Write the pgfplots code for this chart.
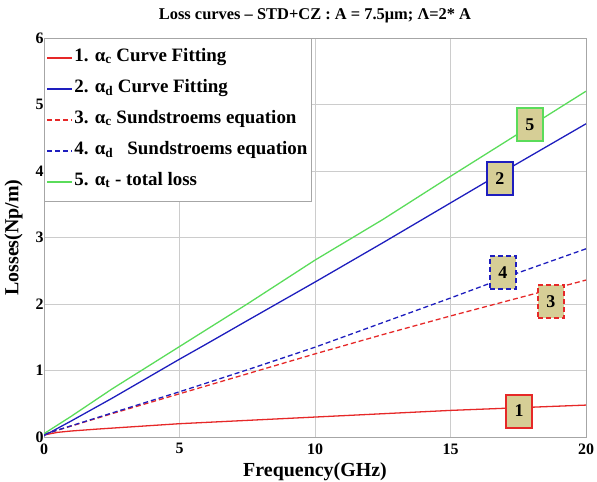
\documentclass[border=0pt]{standalone}
\usepackage{pgfplots}
\pgfplotsset{compat=1.18}
\usepackage{fontspec}
\setmainfont{Liberation Serif}
\definecolor{cred}{RGB}{230,40,40}
\definecolor{cblue}{RGB}{30,30,190}
\definecolor{cgreen}{RGB}{90,220,90}
\definecolor{boxfill}{RGB}{214,206,150}
\begin{document}
\begin{tikzpicture}
\useasboundingbox (-44bp,-45bp) rectangle (553bp,437bp);
\begin{axis}[
  scale only axis, width=542bp, height=399bp,
  xmin=0, xmax=20, ymin=0, ymax=6,
  xtick={0,5,10,15,20}, ytick={0,1,2,3,4,5,6},
  grid=major, major grid style={gray!40, line width=0.6pt},
  axis line style={gray!70, line width=0.8pt},
  tick style={draw=none},
  tick label style={font=\fontsize{16}{18}\selectfont\bfseries},
  /pgf/number format/assume math mode=true,
  xticklabel style={yshift=-3bp}, yticklabel style={xshift=3bp},
  title={Loss curves -- STD+CZ : A = 7.5μm; Λ=2* A},
  title style={font=\fontsize{16.5}{19}\selectfont\bfseries, at={(axis description cs:0.5,1.04)}, anchor=center},
  xlabel={Frequency(GHz)}, ylabel={Losses(Np/m)},
  label style={font=\fontsize{20}{23}\selectfont\bfseries},
  xlabel style={at={(axis description cs:0.5,-0.086)}, anchor=center},
  ylabel style={at={(axis description cs:-0.056,0.5)}, anchor=center},
  legend cell align=left,
  legend style={at={(0,1)}, anchor=north west, draw=gray!70, line width=0.8pt,
    font=\fontsize{19}{22}\selectfont\bfseries, row sep=11bp, inner xsep=2bp, inner ysep=9.5bp,
    nodes={text height=12bp, text depth=5bp, inner sep=1.5bp}},
  limg/.style={legend image code/.code={\draw[#1, line width=1.4pt] (0bp,0bp) -- (25bp,0bp);}},
  every axis plot/.append style={line width=1.3pt},
]
\addplot[color=cred, draw=cred, limg={cred}] coordinates {(0,0.03) (0.5,0.07) (1,0.09) (2,0.12) (3.5,0.16) (5,0.2) (7.5,0.25) (10,0.3) (12.5,0.35) (15,0.4) (17.5,0.44) (20,0.48)};
\addlegendentry{1. α\textsubscript{c} Curve Fitting}
\addplot[color=cblue, draw=cblue, limg={cblue}] coordinates {(0,0.02) (1,0.24) (2.5,0.58) (5,1.17) (6,1.40) (7.5,1.75) (10,2.33) (12.5,2.92) (15,3.52) (17.5,4.12) (20,4.71)};
\addlegendentry{2. α\textsubscript{d} Curve Fitting}
\addplot[color=cred, draw=cred, dash pattern=on 5bp off 3bp, limg={cred, dash pattern=on 5bp off 3bp}] coordinates {(0,0.04) (2.5,0.35) (5,0.65) (7.5,0.95) (10,1.25) (12.5,1.54) (15,1.82) (17.5,2.09) (20,2.36)};
\addlegendentry{3. α\textsubscript{c} Sundstroems equation}
\addplot[color=cblue, draw=cblue, dash pattern=on 5bp off 3bp, limg={cblue, dash pattern=on 5bp off 3bp}] coordinates {(0,0.04) (2.5,0.36) (5,0.68) (7.5,1.01) (10,1.35) (12.5,1.72) (15,2.09) (17.5,2.47) (20,2.83)};
\addlegendentry{4. α\textsubscript{d} \ \ Sundstroems equation}
\addplot[color=cgreen, draw=cgreen, limg={cgreen}] coordinates {(0,0.05) (1,0.31) (2.5,0.72) (5,1.36) (7.5,2.0) (10,2.66) (12.5,3.27) (15,3.92) (17.5,4.56) (20,5.2)};
\addlegendentry{5. α\textsubscript{t} - total loss}
\pgfplotsset{boxlab/.style={only marks, mark=none, point meta=explicit symbolic, nodes near coords,
  nodes near coords style={anchor=center, fill=boxfill, line width=2pt, minimum width=26bp, minimum height=33bp, inner sep=0pt, font=\fontsize{18}{20}\selectfont\bfseries, #1}}}
\addplot[boxlab={draw=cred}] coordinates {(17.53,0.39)[1]};
\addplot[boxlab={draw=cblue}] coordinates {(16.82,3.89)[2]};
\addplot[boxlab={draw=cred, dash pattern=on 5bp off 3bp}] coordinates {(18.7,2.04)[3]};
\addplot[boxlab={draw=cblue, dash pattern=on 5bp off 3bp}] coordinates {(16.93,2.47)[4]};
\addplot[boxlab={draw=cgreen}] coordinates {(17.93,4.70)[5]};
\end{axis}
\end{tikzpicture}
\end{document}
